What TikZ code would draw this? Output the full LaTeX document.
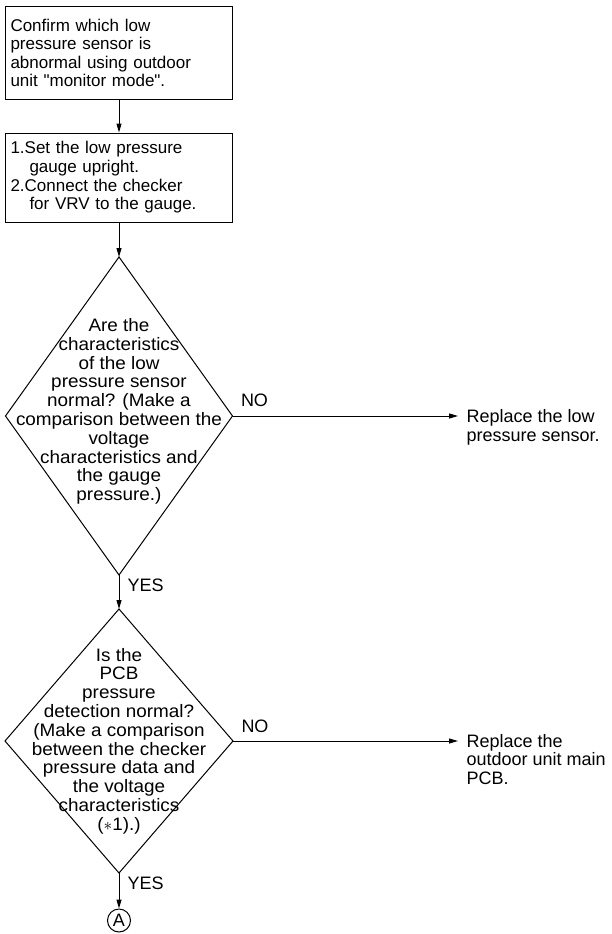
\documentclass[tikz,border=0pt]{standalone}
\usepackage{fontspec}
\setmainfont{Liberation Sans}
\newfontfamily\widesans[FakeStretch=1.05]{Liberation Sans}
\usetikzlibrary{arrows.meta,positioning,shapes.geometric}

\begin{document}
\begin{tikzpicture}[x=1pt,y=-1pt,line width=1pt,>={Triangle[length=9pt,width=5pt]},
  txt/.style={font=\fontsize{18}{18.8}\selectfont,inner sep=0pt},
  dtxt/.style={font=\widesans\fontsize{18}{18.8}\selectfont,inner sep=0pt,align=center},
  box/.style={draw,font=\fontsize{17}{18.6}\selectfont,inner sep=0pt,text width=217pt,align=left,inner xsep=5pt},
  dec/.style={draw,diamond,inner sep=0pt,outer sep=0pt}]
\useasboundingbox (0,0) rectangle (611,934);
\node[box,minimum height=92pt] (c) at (119,53) {Confirm which low\\pressure sensor is\\abnormal using outdoor\\unit \textquotedbl monitor mode\textquotedbl.};
\node[box,minimum height=89pt] (s) at (119,177.5) {1.Set the low pressure\\\hspace*{19pt}gauge upright.\\2.Connect the checker\\\hspace*{19pt}for VRV to the gauge.};
\node[dec,minimum width=227pt,minimum height=318pt] (q1) at (119,416) {};
\node[dtxt] (q1t) at (119,411.5) {Are the\\characteristics\\of the low\\pressure sensor\\normal? (Make a\\comparison between the\\voltage\\characteristics and\\the gauge\\pressure.)};
\node[dec,minimum width=228pt,minimum height=264pt] (q2) at (119,741) {};
\node[dtxt] (q2t) at (119,741) {Is the\\PCB\\pressure\\detection normal?\\(Make a comparison\\between the checker\\pressure data and\\the voltage\\characteristics\\($\ast$1).)};
\node[txt,align=left,anchor=north west] (r1) at (466,409) {Replace the low\\pressure sensor.};
\node[txt,align=left,anchor=north west] (r2) at (466,733.5) {Replace the\\outdoor unit main\\PCB.};
\node[txt,draw,circle,minimum size=23pt] (a) at (119,920.5) {A};
\draw[->] (c.south)--(s.north);\draw[->] (s.south)--(q1.north);
\draw[->] (q1.south)-- node[txt,pos=0.3,right=8pt]{YES} (q2.north);
\draw[->] (q2.south)-- node[txt,pos=0.3,right=8pt]{YES} (a.north);
\draw[->,shorten >=8pt] (q1.east)-- node[txt,pos=0,anchor=south west,xshift=8pt,yshift=9pt]{NO} (q1.east -| r1.west);
\draw[->,shorten >=8pt] (q2.east)-- node[txt,pos=0,anchor=south west,xshift=8pt,yshift=8pt]{NO} (q2.east -| r2.west);
\end{tikzpicture}
\end{document}
